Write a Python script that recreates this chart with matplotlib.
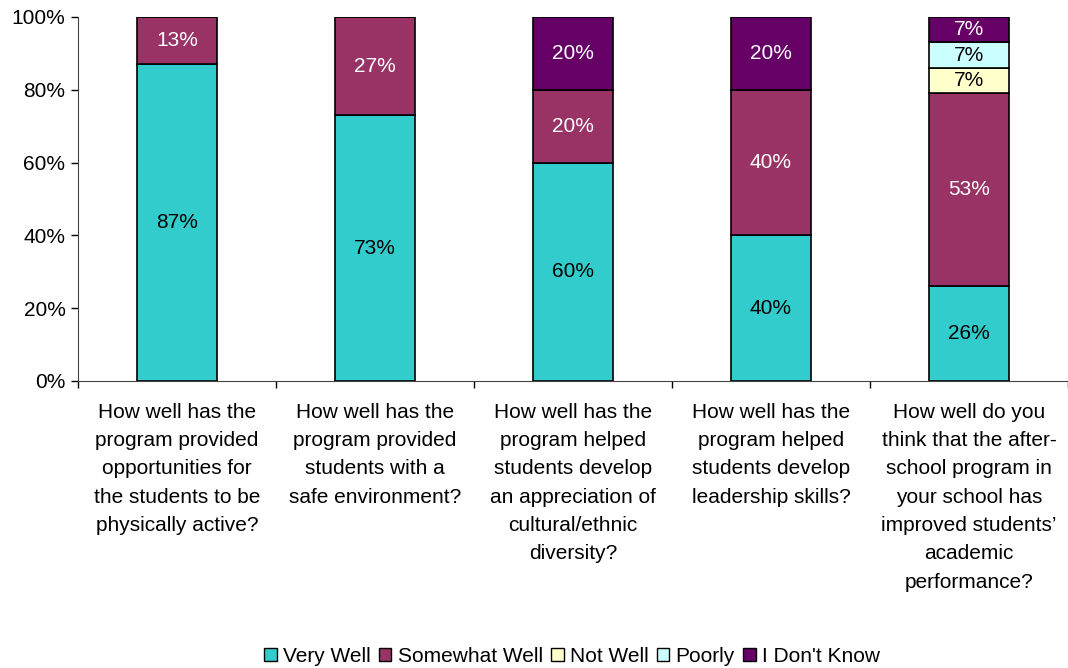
import matplotlib
matplotlib.use("Agg")
import matplotlib.pyplot as plt
from matplotlib.patches import Patch
import numpy as np

plt.rcParams['font.family'] = ['Liberation Sans', 'DejaVu Sans']

questions = [
    "How well has the\nprogram provided\nopportunities for\nthe students to be\nphysically active?",
    "How well has the\nprogram provided\nstudents with a\nsafe environment?",
    "How well has the\nprogram helped\nstudents develop\nan appreciation of\ncultural/ethnic\ndiversity?",
    "How well has the\nprogram helped\nstudents develop\nleadership skills?",
    "How well do you\nthink that the after-\nschool program in\nyour school has\nimproved students\u2019\nacademic\nperformance?",
]
series_names = ["Very Well", "Somewhat Well", "Not Well", "Poorly", "I Don't Know"]
very_well = [87, 73, 60, 40, 26]
somewhat_well = [13, 27, 20, 40, 53]
not_well = [0, 0, 0, 0, 7]
poorly = [0, 0, 0, 0, 7]
dont_know = [0, 0, 20, 20, 7]

colors = ["#33CCCC", "#993366", "#FFFFCC", "#CCFFFF", "#660066"]
text_colors = ["black", "white", "black", "black", "white"]

FS = 15

fig = plt.figure(figsize=(10.68, 6.68), dpi=100)
ax = fig.add_axes([78 / 1068, 1 - 381 / 668, (1068 - 78) / 1068, 364 / 668])

x = np.arange(len(questions))
bottom = np.zeros(len(questions))
for name, vals, col, tcol in zip(series_names,
                                 [very_well, somewhat_well, not_well, poorly, dont_know],
                                 colors, text_colors):
    vals = np.array(vals, dtype=float)
    ax.bar(x, vals, bottom=bottom, width=0.40, color=col, edgecolor="black",
           linewidth=1.2, zorder=3)
    for xi, v, b in zip(x, vals, bottom):
        if v > 0:
            ax.text(xi, b + v / 2, f"{int(v)}%", ha="center", va="center",
                    color=tcol, fontsize=FS, zorder=4)
    bottom += vals

ax.set_xlim(-0.5, len(questions) - 0.5)
ax.set_ylim(0, 100)
ax.set_yticks(np.arange(0, 101, 20))
ax.set_yticklabels([f"{v}%" for v in range(0, 101, 20)], fontsize=FS)
ax.tick_params(axis="y", direction="out", length=5, width=1, pad=4)

# category separators as ticks, labels centred under bars
ax.set_xticks(np.arange(-0.5, len(questions), 1.0))
ax.set_xticklabels([])
ax.tick_params(axis="x", direction="out", length=5, width=1)
for xi, q in zip(x, questions):
    ax.text(xi, -6.0, q, ha="center", va="top", fontsize=FS,
            linespacing=1.62, transform=ax.transData)

for side in ["top", "right"]:
    ax.spines[side].set_visible(False)
ax.spines["left"].set_color("#444444")
ax.spines["bottom"].set_color("#444444")

handles = [Patch(facecolor=c, edgecolor="black", linewidth=1.0) for c in colors]
fig.legend(handles, series_names, loc="center", bbox_to_anchor=(572 / 1068, 1 - 656 / 668),
           ncol=5, frameon=False, fontsize=FS, handlelength=0.6, handleheight=0.6,
           handletextpad=0.3, columnspacing=0.4, borderpad=0)

fig.savefig("out.png", dpi=100)
